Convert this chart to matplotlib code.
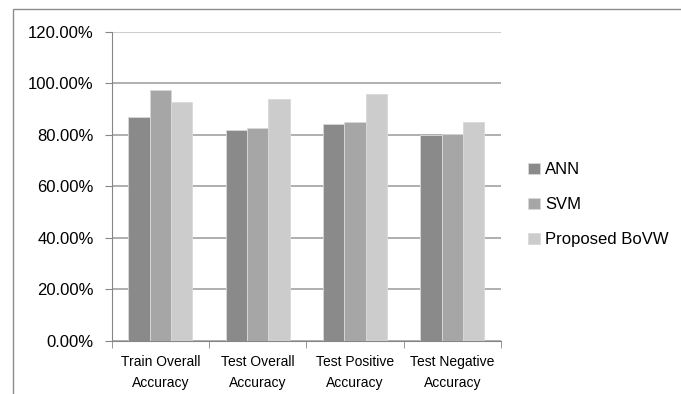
import numpy as np
import matplotlib
matplotlib.use("Agg")
import matplotlib.pyplot as plt
from matplotlib.patches import Rectangle
from matplotlib.ticker import FuncFormatter, FixedLocator

plt.rcParams['font.family'] = ['Liberation Sans', 'DejaVu Sans']

# data (percent)
categories = ["Train Overall\nAccuracy", "Test Overall\nAccuracy",
              "Test Positive\nAccuracy", "Test Negative\nAccuracy"]
ann = [86.7, 81.9, 84.1, 79.7]
svm = [97.2, 82.6, 85.1, 80.3]
bovw = [92.7, 93.8, 96.0, 85.1]
series = ["ANN", "SVM", "Proposed BoVW"]
colors = ["#8a8a8a", "#a6a6a6", "#cccccc"]

fig = plt.figure(figsize=(6.81, 3.94), dpi=100)
ax = fig.add_axes([0.164, 0.1353, 0.5715, 0.7842])

# figure frame (top and left visible)
fig.patches.append(Rectangle((13 / 681, -0.1), 1.2, 1.1 - 9.5 / 394,
                             transform=fig.transFigure, fill=False,
                             edgecolor="#8c8c8c", lw=1.0))

x = np.arange(len(categories))
w = 0.22
for i, (vals, name, c) in enumerate(zip([ann, svm, bovw], series, colors)):
    ax.bar(x + (i - 1) * w, vals, w, color=c, edgecolor="#d9d9d9",
           linewidth=0.6, label=name, zorder=3)

ax.set_xlim(-0.5, 3.5)
ax.set_ylim(0, 120)
ax.set_yticks(np.arange(0, 121, 20))
ax.yaxis.set_major_formatter(FuncFormatter(lambda v, p: f"{v:.2f}%"))
ax.yaxis.grid(True, color="#9a9a9a", lw=1.1, zorder=0)
ax.get_ygridlines()[-1].set_color("#c0c0c0")
ax.tick_params(axis="y", length=5, color="#868686", pad=8, labelsize=12)

ax.set_xticks(x)
ax.set_xticklabels(categories, fontsize=10, linespacing=1.7)
ax.tick_params(axis="x", which="major", length=0, pad=10)
ax.xaxis.set_minor_locator(FixedLocator(np.arange(-0.5, 3.6, 1)))
ax.tick_params(axis="x", which="minor", length=5, color="#868686")

for s in ["top", "right"]:
    ax.spines[s].set_visible(False)
for s in ["left", "bottom"]:
    ax.spines[s].set_color("#868686")

ax.legend(loc="center left", bbox_to_anchor=(1.032, 0.44), frameon=False,
          fontsize=12, handlelength=0.7, handleheight=0.7, handletextpad=0.3,
          labelspacing=1.2)

fig.savefig("out.png", dpi=100)
